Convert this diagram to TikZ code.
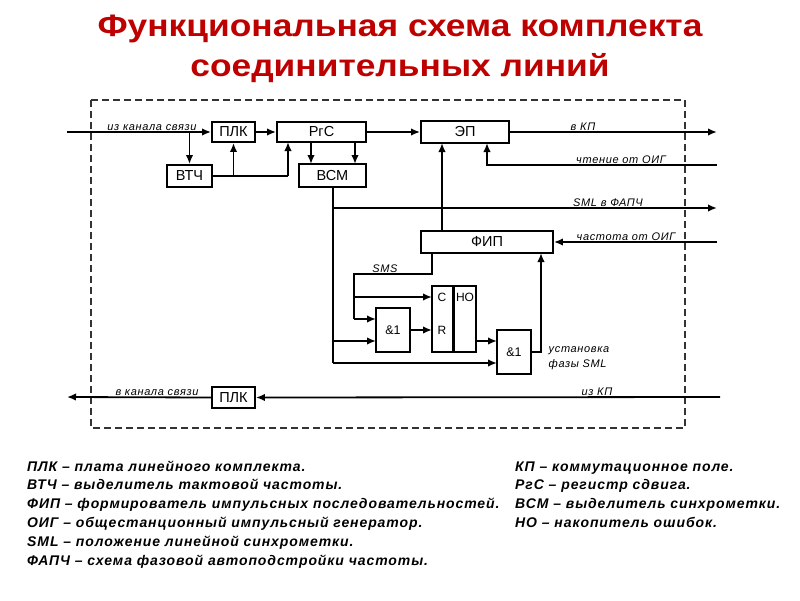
\documentclass[tikz,border=0pt]{standalone}
\usepackage{fontspec}
\setmainfont{Liberation Sans}
\usetikzlibrary{arrows.meta}
\definecolor{ttl}{RGB}{190,0,0}
\begin{document}
\begin{tikzpicture}[x=1pt,y=-1pt,
 blk/.style={draw, line width=1.8pt, inner sep=0pt, font=\fontsize{14.5}{16}\selectfont},
 sblk/.style={blk, font=\fontsize{12.5}{14}\selectfont},
 wire/.style={line width=1.8pt},
 arr/.style={wire, -{Latex[length=9pt,width=7.5pt]}},
 lbl/.style={font=\fontsize{11}{12}\selectfont\itshape\addfontfeature{LetterSpace=6}, inner sep=1.5pt},
 leg/.style={font=\fontsize{14}{15}\selectfont\bfseries\itshape\addfontfeature{LetterSpace=6.5}, anchor=base west, inner sep=0pt},
 ttlst/.style={font=\fontsize{31}{34}\selectfont\bfseries, text=ttl, inner sep=0pt, anchor=base},
 cell/.style={font=\fontsize{12}{13}\selectfont, inner sep=0pt}]
\useasboundingbox[fill=white] (0,0) rectangle (800,600);
% title
\node[ttlst] (t1) at (400,36) {\scalebox{1.14}[1]{Функциональная схема комплекта}};
\node[ttlst] (t2) at (400,76) {\scalebox{1.14}[1]{соединительных линий}};
% frame
\draw[line width=1.3pt, dash pattern=on 7pt off 4pt, black!80] (91,100) rectangle (685,428);
% blocks
\node[blk, minimum width=43pt, minimum height=20pt] (plk1) at (233.5,132) {ПЛК};
\node[blk, minimum width=89pt, minimum height=20pt] (rgs) at (321.5,132) {РгС};
\node[blk, minimum width=45pt, minimum height=22pt] (vtch) at (189.5,176) {ВТЧ};
\node[blk, minimum width=67pt, minimum height=23pt] (vsm) at (332.5,175.5) {ВСМ};
\node[blk, minimum width=88pt, minimum height=22pt] (ep) at (465,132) {ЭП};
\node[blk, minimum width=132pt, minimum height=22pt] (fip) at (487,242) {ФИП};
\node[sblk, minimum width=34pt, minimum height=44pt] (and1) at (393,330) {\&1};
\node[sblk, minimum width=21pt, minimum height=66pt] (cnt) at (442.5,319) {};
\node[sblk, minimum width=23pt, minimum height=66pt] (ho) at (464.5,319) {};
\node[sblk, minimum width=34pt, minimum height=44pt] (and2) at (514,352) {\&1};
\node[blk, minimum width=43pt, minimum height=21pt] (plk2) at (233.5,397.5) {ПЛК};
\node[cell] (tc) at (442,297) {C};
\node[cell] (tr) at (442,330) {R};
\node[cell] (tho) at (465,297) {НО};
% free ends
\coordinate (inA) at (67,132);
\coordinate (outKP) at (717,132);
\coordinate (chOIG) at (717,165);
\coordinate (smlF) at (717,208);
\coordinate (frOIG) at (717,242);
\coordinate (izKP) at (720,397);
\coordinate (outL) at (67,397);
% top chain
\draw[arr] (inA) -- (plk1.west);
\draw[arr] (vtch.north |- inA) -- (vtch.north);
\draw[arr] (plk1.east) -- (rgs.west);
\draw[wire] (vtch.east) -- (288,176);
\draw[arr] (288,176) -- (288,142);
\draw[arr] (233.5,176) -- (plk1.south);
\draw[arr] (311,142) -- (311,164);
\draw[arr] (355,142) -- (355,164);
\draw[arr] (rgs.east) -- (ep.west);
\draw[arr] (ep.east) -- (outKP);
\draw[arr] (chOIG) -- (487,165) -- (487,143);
% VSM outputs
\draw[wire] (333,187) -- (333,363);
\draw[arr] (333,208) -- (smlF);
\draw[arr] (333,341) -- (376,341);
\draw[arr] (333,363) -- (497,363);
% FIP
\draw[arr] (442,231) -- (442,143);
\draw[arr] (frOIG) -- (fip.east);
\draw[wire] (432,253) -- (432,274) -- (354,274) -- (354,319);
\draw[arr] (354,319) -- (376,319);
\draw[arr] (354,297) -- (432,297);
\draw[arr] (and1.east) -- (432,330);
\draw[wire] (cnt.north east) -- (cnt.south east);
\draw[arr] (476,341) -- (497,341);
\draw[arr] (and2.east) -- (541,352) -- (541,253);
% bottom
\draw[arr] (izKP) -- (plk2.east);
\draw[arr] (plk2.west) -- (outL);
% labels
\node[lbl, anchor=south] (l1) at (152,132) {из канала связи};
\node[lbl, anchor=south] (l2) at (583,132) {в КП};
\node[lbl, anchor=south] (l3) at (621,165) {чтение от ОИГ};
\node[lbl, anchor=south] (l4) at (608,208) {SML в ФАПЧ};
\node[lbl, anchor=south] (l5) at (626,242) {частота от ОИГ};
\node[lbl, anchor=south] (l6) at (385,274) {SMS};
\node[lbl, anchor=west, align=left, font=\fontsize{11}{15}\selectfont\itshape\addfontfeature{LetterSpace=6}] (l7) at (547,358) {установка\\фазы SML};
\node[lbl, anchor=south] (l8) at (157,397) {в канала связи};
\node[lbl, anchor=south] (l9) at (597,397) {из КП};
% legend
\node[leg] (g1) at (27,471) {ПЛК – плата линейного комплекта.};
\node[leg] (g2) at (27,489.8) {ВТЧ – выделитель тактовой частоты.};
\node[leg] (g3) at (27,508.6) {ФИП – формирователь импульсных последовательностей.};
\node[leg] (g4) at (27,527.4) {ОИГ – общестанционный импульсный генератор.};
\node[leg] (g5) at (27,546.2) {SML – положение линейной синхрометки.};
\node[leg] (g6) at (27,565) {ФАПЧ – схема фазовой автоподстройки частоты.};
\node[leg] (h1) at (515,471) {КП – коммутационное поле.};
\node[leg] (h2) at (515,489.8) {РгС – регистр сдвига.};
\node[leg] (h3) at (515,508.6) {ВСМ – выделитель синхрометки.};
\node[leg] (h4) at (515,527.4) {НО – накопитель ошибок.};
\end{tikzpicture}
\end{document}
